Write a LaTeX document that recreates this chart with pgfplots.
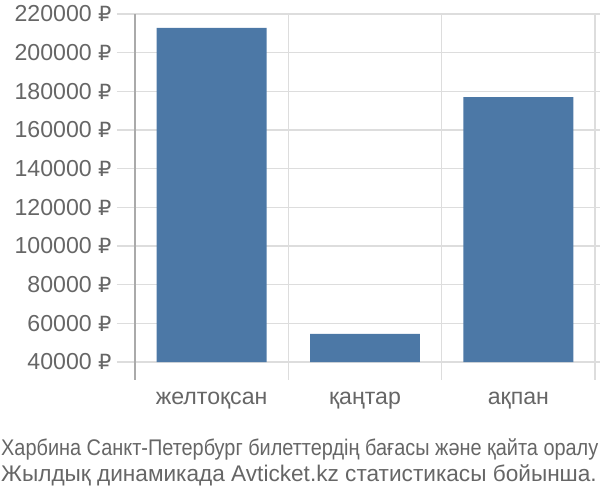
\documentclass[border=0pt]{standalone}
\usepackage{fontspec}
\setmainfont{Liberation Sans}
\newfontfamily\capfont[FakeStretch=0.88]{Liberation Sans}
\newfontfamily\rub{DejaVu Sans}
\newcommand{\R}{{\rub\fontsize{21}{25}\selectfont ₽}}
\usepackage{pgfplots}
\pgfplotsset{compat=1.18}
\definecolor{barc}{RGB}{76,120,166}
\definecolor{txt}{RGB}{102,102,102}
\definecolor{gridc}{RGB}{221,221,221}
\definecolor{axc}{RGB}{170,170,170}
\begin{document}
\begin{tikzpicture}
\useasboundingbox (0bp,0bp) rectangle (600bp,-500bp);
\begin{axis}[
  at={(135bp,-362bp)}, anchor=south west,
  scale only axis, width=460bp, height=348bp,
  xmin=-0.5, xmax=2.5, ymin=40000, ymax=220000,
  ytick={40000,60000,80000,100000,120000,140000,160000,180000,200000,220000},
  yticklabels={40000 \R,60000 \R,80000 \R,100000 \R,120000 \R,140000 \R,160000 \R,180000 \R,200000 \R,220000 \R},
  scaled y ticks=false,
  xtick={0,1,2}, xticklabels={желтоқсан,қаңтар,ақпан},
  ymajorgrids, grid style={gridc, line width=1.2bp},
  axis line style={draw=none},
  xtick style={draw=none}, ytick style={gridc, line width=1.2bp},
  major tick length=18bp, tick align=outside,
  ticklabel style={font=\fontsize{23.2}{27}\selectfont, text=txt},
  yticklabel style={xshift=-2bp},
  xticklabel style={yshift=-9bp},
  clip=false,
]
\addplot[ybar, bar width=0.717, fill=barc, draw=none] coordinates {(0,212800) (1,54500) (2,177000)};
\foreach \x in {0.5,1.5,2.5} {
  \edef\tmp{\noexpand\draw[gridc, line width=1.2bp] (axis cs:\x,220000) -- ([yshift=-18bp]axis cs:\x,40000);}
  \tmp
}
\draw[axc, line width=1.5bp] (axis cs:-0.5,220000) -- ([yshift=-18bp]axis cs:-0.5,40000);
\end{axis}
\node[anchor=base west, inner sep=0, text=txt, font=\capfont\fontsize{22.7}{26}\selectfont] at (1bp,-455bp) {Харбина Санкт-Петербург билеттердің бағасы және қайта оралу};
\node[anchor=base west, inner sep=0, text=txt, font=\fontsize{22.7}{26}\selectfont] at (1bp,-481bp) {Жылдық динамикада Avticket.kz статистикасы бойынша.};
\end{tikzpicture}
\end{document}
